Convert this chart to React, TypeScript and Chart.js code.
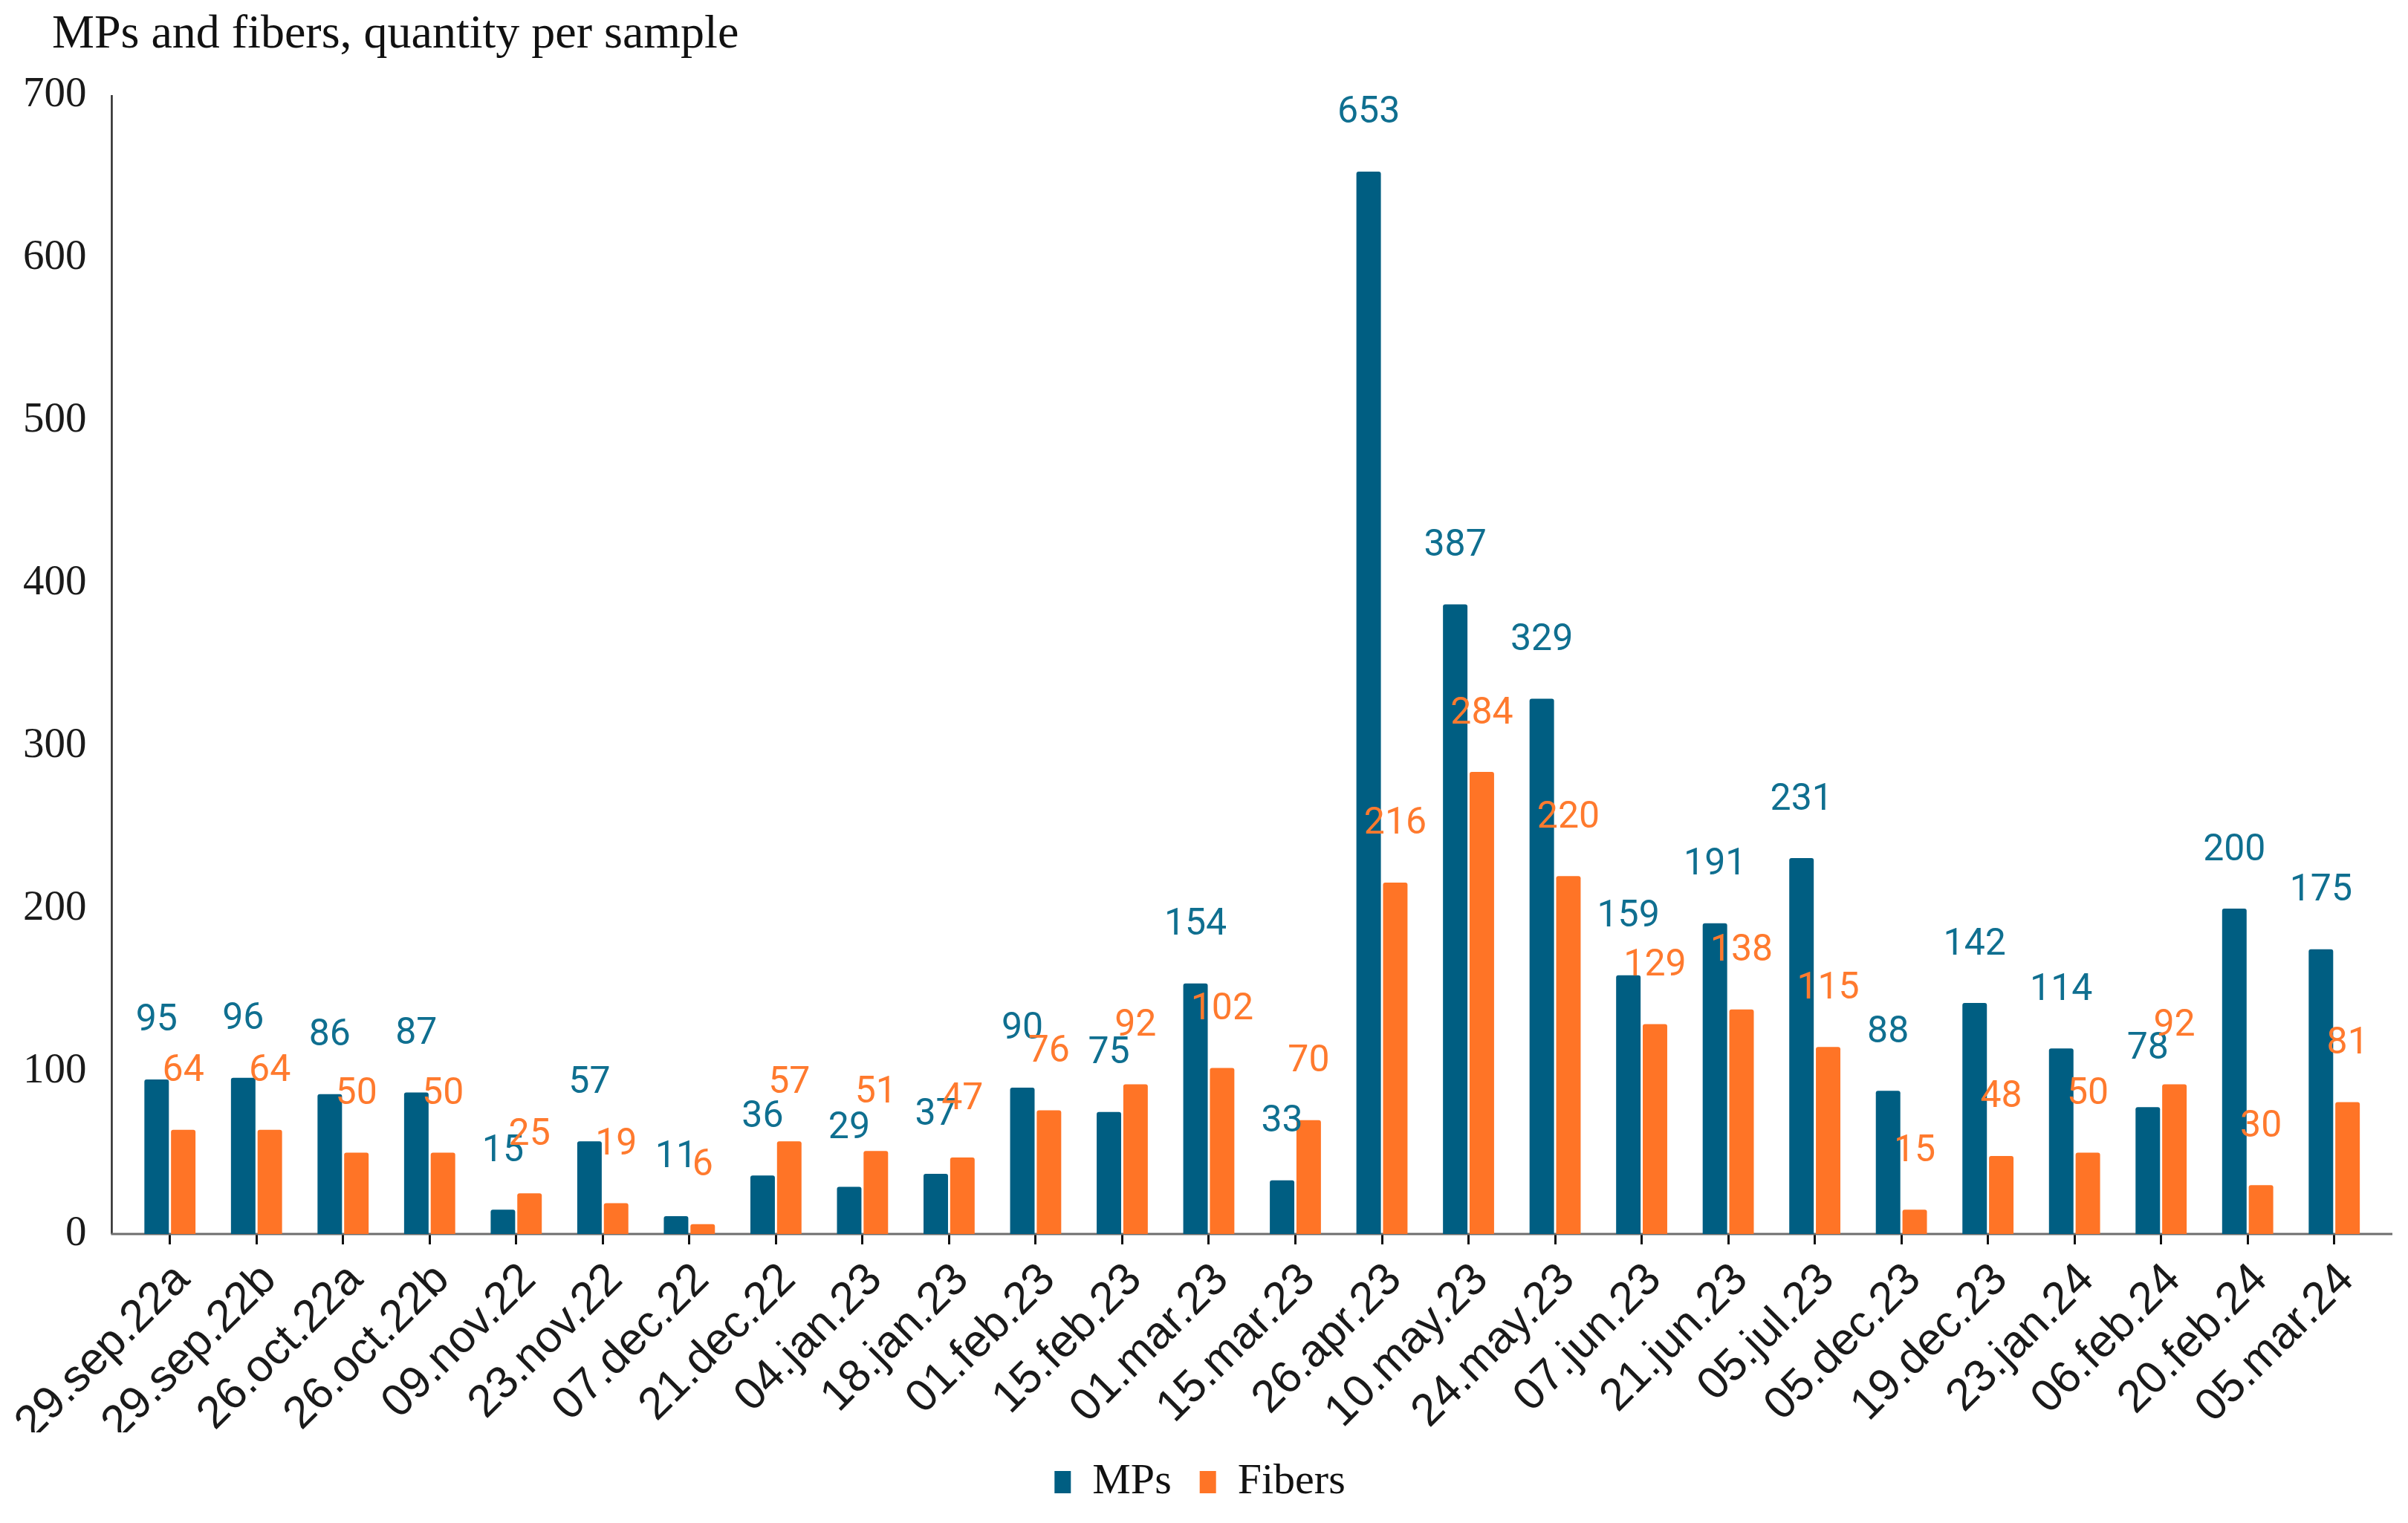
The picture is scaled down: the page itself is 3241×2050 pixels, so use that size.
import React, { useEffect, useRef } from "react";
import { Chart, registerables } from "chart.js";

Chart.register(...registerables);

const categories = [
  "29.sep.22a", "29.sep.22b", "26.oct.22a", "26.oct.22b", "09.nov.22", "23.nov.22",
  "07.dec.22", "21.dec.22", "04.jan.23", "18.jan.23", "01.feb.23", "15.feb.23",
  "01.mar.23", "15.mar.23", "26.apr.23", "10.may.23", "24.may.23", "07.jun.23",
  "21.jun.23", "05.jul.23", "05.dec.23", "19.dec.23", "23.jan.24", "06.feb.24",
  "20.feb.24", "05.mar.24",
];

const mpsValues = [95, 96, 86, 87, 15, 57, 11, 36, 29, 37, 90, 75, 154, 33, 653, 387, 329, 159, 191, 231, 88, 142, 114, 78, 200, 175];
const fiberValues = [64, 64, 50, 50, 25, 19, 6, 57, 51, 47, 76, 92, 102, 70, 216, 284, 220, 129, 138, 115, 15, 48, 50, 92, 30, 81];

const yTicks = [0, 100, 200, 300, 400, 500, 600, 700];

const titleText = "MPs and fibers, quantity per sample";

const BLUE = "#005E82";
const ORANGE = "#FF7426";
const BLUE_LABEL = "#0F6F90";
const ORANGE_LABEL = "#FF7A2E";

const titlePlugin = {
  id: "topLeftTitle",
  afterDraw(chart: any) {
    const { ctx } = chart;
    ctx.save();
    ctx.font = "64px 'Liberation Serif', serif";
    ctx.fillStyle = "#111";
    ctx.textAlign = "left";
    ctx.textBaseline = "middle";
    ctx.fillText(titleText, 70, 47);
    ctx.restore();
  },
};

const axisLinesPlugin = {
  id: "axisLines",
  beforeDatasetsDraw(chart: any) {
    const { ctx, chartArea } = chart;
    const ext = 20;
    ctx.save();
    ctx.strokeStyle = "#2a2a2a";
    ctx.lineWidth = 2.5;
    ctx.beginPath();
    ctx.moveTo(chartArea.left - ext, chartArea.top);
    ctx.lineTo(chartArea.left - ext, chartArea.bottom);
    ctx.stroke();
    ctx.strokeStyle = "#6e6e6e";
    ctx.lineWidth = 3;
    ctx.beginPath();
    ctx.moveTo(chartArea.left - ext - 1, chartArea.bottom);
    ctx.lineTo(chartArea.right + ext, chartArea.bottom);
    ctx.stroke();
    ctx.restore();
  },
};

const valueLabelPlugin = {
  id: "valueLabels",
  afterDatasetsDraw(chart: any) {
    const { ctx } = chart;
    ctx.save();
    ctx.font = "50px Roboto";
    ctx.textAlign = "center";
    ctx.textBaseline = "middle";
    chart.data.datasets.forEach((ds: any, di: number) => {
      const meta = chart.getDatasetMeta(di);
      ctx.fillStyle = di === 0 ? BLUE_LABEL : ORANGE_LABEL;
      meta.data.forEach((el: any, i: number) => {
        ctx.fillText(String(ds.data[i]), el.x, el.y - 78);
      });
    });
    ctx.restore();
  },
};

export default function App() {
  const canvasRef = useRef<HTMLCanvasElement | null>(null);

  useEffect(() => {
    if (!canvasRef.current) return;
    const chart = new Chart(canvasRef.current, {
      type: "bar",
      data: {
        labels: categories,
        datasets: [
          {
            label: "MPs",
            data: mpsValues,
            backgroundColor: BLUE,
            borderRadius: { topLeft: 3, topRight: 3, bottomLeft: 0, bottomRight: 0 },
            borderSkipped: "bottom",
            barPercentage: 0.92,
            categoryPercentage: 0.615,
          },
          {
            label: "Fibers",
            data: fiberValues,
            backgroundColor: ORANGE,
            borderRadius: { topLeft: 3, topRight: 3, bottomLeft: 0, bottomRight: 0 },
            borderSkipped: "bottom",
            barPercentage: 0.92,
            categoryPercentage: 0.615,
          },
        ],
      },
      options: {
        animation: false,
        responsive: true,
        maintainAspectRatio: false,
        devicePixelRatio: 1,
        layout: { padding: { left: 30, right: 41, top: 128, bottom: 16 } },
        plugins: {
          title: { display: false },
          legend: {
            position: "bottom",
            labels: {
              boxWidth: 22,
              boxHeight: 30,
              padding: 38,
              color: "#111",
              font: { family: "'Liberation Serif', serif", size: 58 },
            },
          },
          tooltip: { enabled: false },
        },
        scales: {
          x: {
            grid: {
              display: true,
              drawOnChartArea: false,
              drawTicks: true,
              tickLength: 14,
              color: "#111",
              lineWidth: 3,
              offset: false,
            },
            border: { display: false },
            ticks: {
              autoSkip: false,
              minRotation: 45,
              maxRotation: 45,
              padding: 12,
              labelOffset: 17,
              color: "#1a1a1a",
              font: { family: "'Liberation Sans', Arial, sans-serif", size: 61 },
            },
            afterFit(scale: any) {
              scale.height = 267;
            },
          },
          y: {
            min: 0,
            max: 700,
            afterBuildTicks(scale: any) {
              scale.ticks = yTicks.map((v) => ({ value: v }));
            },
            grid: { display: false, drawTicks: false },
            border: { display: false },
            ticks: {
              padding: 54,
              color: "#1a1a1a",
              font: { family: "'Liberation Serif', serif", size: 57 },
            },
            afterFit(scale: any) {
              scale.width = 140;
            },
          },
        },
      },
      plugins: [axisLinesPlugin, valueLabelPlugin, titlePlugin],
    });
    return () => chart.destroy();
  }, []);

  return (
    <div style={{ position: "absolute", left: 0, top: 0, width: "3241px", height: "2050px", background: "#fff" }}>
      <canvas ref={canvasRef} />
    </div>
  );
}
